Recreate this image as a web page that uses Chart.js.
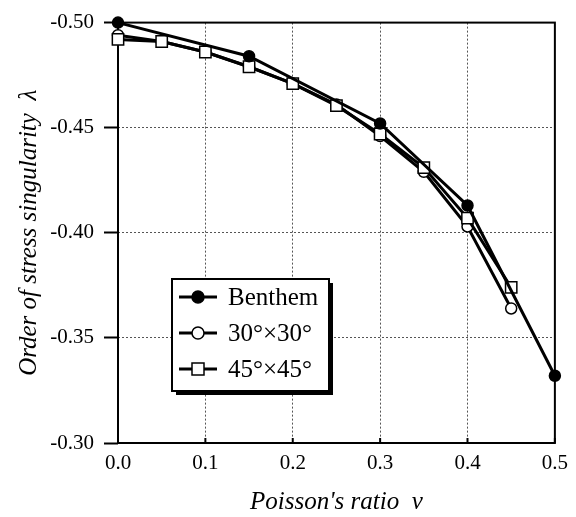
<!DOCTYPE html>
<html>
<head>
<meta charset="utf-8">
<script src="https://cdn.jsdelivr.net/npm/chart.js@4.4.0/dist/chart.umd.min.js"></script>
<style>
  html, body { margin: 0; padding: 0; background: #fff; }
  #wrap { width: 576px; height: 517px; }
</style>
</head>
<body>
<div id="wrap"><canvas id="lambdaChart" width="576" height="517"></canvas></div>
<script>
// Poisson's ratio for the mesh results
const nuMesh = [0, 0.05, 0.1, 0.15, 0.2, 0.25, 0.3, 0.35, 0.4, 0.45];
// Benthem's exact solution
const nuBenthem = [0, 0.15, 0.3, 0.4, 0.5];
const lambdaBenthem = [-0.500, -0.484, -0.452, -0.413, -0.332];
// 30x30 mesh
const lambda30 = [-0.494, -0.491, -0.486, -0.479, -0.471, -0.461, -0.446, -0.429, -0.403, -0.364];
// 45x45 mesh
const lambda45 = [-0.492, -0.491, -0.486, -0.479, -0.471, -0.4605, -0.447, -0.431, -0.407, -0.374];

const xTicks = [0, 0.1, 0.2, 0.3, 0.4, 0.5];
const yTicks = [-0.50, -0.45, -0.40, -0.35, -0.30];

const legendLabels = ['Benthem', '30°×30°', '45°×45°'];

const serif = "'Liberation Serif', 'DejaVu Serif', serif";

const toPoints = (xs, ys) => xs.map((x, i) => ({ x: x, y: ys[i] }));

// frame, inward x ticks and the boxed legend
const framePlugin = {
  id: 'frame',
  beforeDatasetsDraw(chart) {
    const { ctx, chartArea: a, scales } = chart;
    ctx.save();
    ctx.strokeStyle = '#000';
    ctx.lineWidth = 2;
    ctx.strokeRect(a.left, a.top, a.right - a.left, a.bottom - a.top);
    // x ticks point into the plot
    xTicks.forEach(v => {
      const px = scales.x.getPixelForValue(v);
      ctx.beginPath();
      ctx.moveTo(px, a.bottom);
      ctx.lineTo(px, a.bottom - 5);
      ctx.stroke();
    });
    ctx.restore();
  },
  afterDraw(chart) {
    const { ctx } = chart;
    const bx = 172, by = 279, bw = 157, bh = 112;
    ctx.save();
    // drop shadow
    ctx.fillStyle = '#000';
    ctx.fillRect(bx + 4, by + 4, bw, bh);
    ctx.fillStyle = '#fff';
    ctx.fillRect(bx, by, bw, bh);
    ctx.strokeStyle = '#000';
    ctx.lineWidth = 2;
    ctx.strokeRect(bx, by, bw, bh);

    const styles = ['dot', 'circle', 'square'];
    ctx.font = '25px ' + serif;
    ctx.textBaseline = 'middle';
    ctx.textAlign = 'left';
    legendLabels.forEach((label, i) => {
      const cy = by + 18 + i * 36;
      ctx.lineWidth = 3;
      ctx.beginPath();
      ctx.moveTo(bx + 7, cy);
      ctx.lineTo(bx + 45, cy);
      ctx.stroke();
      const mx = bx + 26;
      ctx.lineWidth = 1.5;
      if (styles[i] === 'square') {
        ctx.fillStyle = '#fff';
        ctx.fillRect(mx - 6, cy - 6, 12, 12);
        ctx.strokeRect(mx - 6, cy - 6, 12, 12);
      } else {
        ctx.beginPath();
        ctx.arc(mx, cy, 6, 0, Math.PI * 2);
        ctx.fillStyle = styles[i] === 'dot' ? '#000' : '#fff';
        ctx.fill();
        ctx.stroke();
      }
      ctx.fillStyle = '#000';
      ctx.fillText(label, bx + 56, cy + 1);
    });
    ctx.restore();
  }
};

const gridColor = (ctx) => {
  const v = ctx.tick ? ctx.tick.value : null;
  if (v === null) return 'rgba(0,0,0,0)';
  if (Math.abs(v - ctx.scale.min) < 1e-9 || Math.abs(v - ctx.scale.max) < 1e-9) return 'rgba(0,0,0,0)';
  return '#555';
};

const data = {
  datasets: [
    {
      label: legendLabels[0],
      data: toPoints(nuBenthem, lambdaBenthem),
      borderColor: '#000',
      backgroundColor: '#000',
      borderWidth: 3,
      pointStyle: 'circle',
      pointRadius: 5.5,
      pointBorderWidth: 1.5,
      pointBackgroundColor: '#000',
      clip: false,
      order: 0
    },
    {
      label: legendLabels[2],
      data: toPoints(nuMesh, lambda45),
      borderColor: '#000',
      borderWidth: 3,
      pointStyle: 'rect',
      pointRadius: 8,
      pointBorderWidth: 1.5,
      pointBackgroundColor: '#fff',
      clip: false,
      order: 1
    },
    {
      label: legendLabels[1],
      data: toPoints(nuMesh, lambda30),
      borderColor: '#000',
      borderWidth: 3,
      pointStyle: 'circle',
      pointRadius: 5.5,
      pointBorderWidth: 1.5,
      pointBackgroundColor: '#fff',
      clip: false,
      order: 2
    }
  ]
};

const config = {
  type: 'line',
  data: data,
  options: {
    responsive: false,
    animation: false,
    devicePixelRatio: 1,
    layout: { padding: { top: 15, right: 14, left: 0, bottom: 0 } },
    plugins: {
      legend: { display: false },
      tooltip: { enabled: false }
    },
    elements: { line: { tension: 0 } },
    scales: {
      x: {
        type: 'linear',
        min: 0,
        max: 0.5,
        afterBuildTicks: (scale) => { scale.ticks = xTicks.map(v => ({ value: v })); },
        afterFit: (scale) => { scale.height = 74; },
        ticks: {
          callback: (v) => Number(v).toFixed(1),
          font: { family: serif, size: 21 },
          color: '#000',
          padding: 8,
          maxRotation: 0
        },
        grid: { color: gridColor, lineWidth: 1, drawTicks: false },
        border: { display: false, dash: [2, 2] },
        title: {
          display: true,
          text: "Poisson's ratio  ν",
          font: { family: serif, size: 25, style: 'italic' },
          color: '#000',
          padding: { top: 12, bottom: 0 }
        }
      },
      y: {
        type: 'linear',
        reverse: true,
        min: -0.5,
        max: -0.3,
        afterBuildTicks: (scale) => { scale.ticks = yTicks.map(v => ({ value: v })); },
        afterFit: (scale) => { scale.width = 118; },
        ticks: {
          callback: (v) => Number(v).toFixed(2),
          font: { family: serif, size: 21 },
          color: '#000',
          padding: 10
        },
        grid: { color: gridColor, lineWidth: 1, tickLength: 14, tickColor: '#000', tickWidth: 2 },
        border: { display: false, dash: [2, 2] },
        title: {
          display: true,
          text: 'Order of stress singularity  λ',
          font: { family: serif, size: 25, style: 'italic' },
          color: '#000',
          padding: { top: 14, bottom: 0 }
        }
      }
    }
  },
  plugins: [framePlugin]
};

const ctx = document.getElementById('lambdaChart');
new Chart(ctx, config);
</script>
</body>
</html>
